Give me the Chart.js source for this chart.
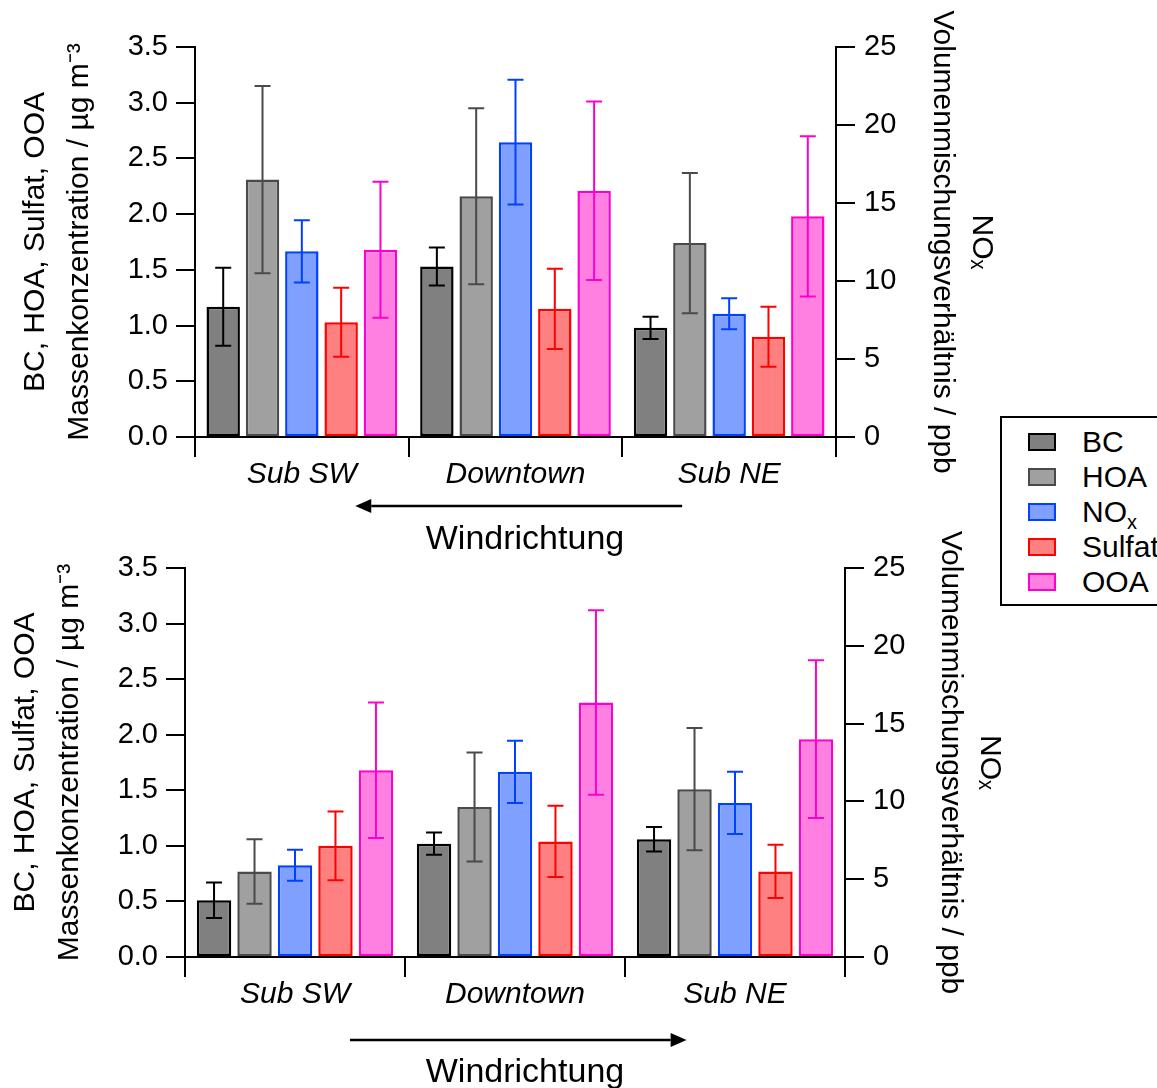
<!DOCTYPE html>
<html>
<head>
<meta charset="utf-8">
<script src="https://cdn.jsdelivr.net/npm/chart.js@4.4.1/dist/chart.umd.min.js"></script>
<style>
body { margin: 0; width: 1157px; height: 1088px; overflow: hidden; background: #fff; position: relative;
       font-family: "Liberation Sans", Arial, Helvetica, sans-serif; color: #000; }
canvas { position: absolute; left: 0; }
#topChart { top: 0; }
#bottomChart { top: 520px; }
.wind { position: absolute; left: 375px; width: 300px; text-align: center; font-size: 34px; line-height: 34px; }
#legend { position: absolute; left: 1000px; top: 416px; width: 200px; height: 186px; border: 2px solid #000; background: #fff; }
.item { position: absolute; left: 0; width: 200px; height: 30px; font-size: 30px; line-height: 30px; }
.swatch { position: absolute; left: 26px; top: 6px; width: 24px; height: 14px; border: 2px solid; }
.item .label { position: absolute; left: 80px; top: 0; white-space: nowrap; }
.item sub { font-size: 20px; line-height: 0; }
</style>
</head>
<body>
<canvas id="topChart" width="1020" height="520"></canvas>
<canvas id="bottomChart" width="1020" height="568"></canvas>
<div class="wind" style="top:520px">Windrichtung</div>
<div class="wind" style="top:1053px">Windrichtung</div>
<div id="legend"></div>

<script>
const categories = ['Sub SW', 'Downtown', 'Sub NE'];
const seriesNames = ['BC', 'HOA', 'NOx', 'Sulfat', 'OOA'];
const fillColors = ['#808080', '#a0a0a0', '#80a0ff', '#ff8080', '#ff80e0'];
const lineColors = ['#000000', '#4a4a4a', '#0040ff', '#ff0000', '#ff00cc'];
const massTicks = [0, 0.5, 1.0, 1.5, 2.0, 2.5, 3.0, 3.5];
const noxTicks = [0, 5, 10, 15, 20, 25];

// upper panel (arrow towards Sub SW)
const topBC = [1.17, 1.53, 0.98];
const topBCErr = [0.35, 0.17, 0.10];
const topHOA = [2.31, 2.16, 1.74];
const topHOAErr = [0.84, 0.79, 0.63];
const topNOx = [11.9, 18.9, 7.9];
const topNOxErr = [2.0, 4.0, 1.0];
const topSulfat = [1.03, 1.15, 0.90];
const topSulfatErr = [0.31, 0.36, 0.27];
const topOOA = [1.68, 2.21, 1.98];
const topOOAErr = [0.61, 0.80, 0.72];

// lower panel (arrow towards Sub NE)
const bottomBC = [0.51, 1.02, 1.06];
const bottomBCErr = [0.16, 0.10, 0.11];
const bottomHOA = [0.77, 1.35, 1.51];
const bottomHOAErr = [0.29, 0.49, 0.55];
const bottomNOx = [5.9, 11.9, 9.9];
const bottomNOxErr = [1.0, 2.0, 2.0];
const bottomSulfat = [1.00, 1.04, 0.77];
const bottomSulfatErr = [0.31, 0.32, 0.24];
const bottomOOA = [1.68, 2.29, 1.96];
const bottomOOAErr = [0.61, 0.83, 0.71];

Chart.defaults.font.family = '"Liberation Sans", Arial, Helvetica, sans-serif';
Chart.defaults.color = '#000';

// draws +/- error whiskers on top of each bar
const errorBars = {
    id: 'errorBars',
    afterDatasetsDraw(chart) {
        const ctx = chart.ctx;
        chart.data.datasets.forEach((ds, i) => {
            const meta = chart.getDatasetMeta(i);
            const scale = chart.scales[ds.yAxisID];
            meta.data.forEach((bar, j) => {
                const hi = scale.getPixelForValue(ds.data[j] + ds.errors[j]);
                const lo = scale.getPixelForValue(ds.data[j] - ds.errors[j]);
                ctx.save();
                ctx.strokeStyle = ds.borderColor;
                ctx.lineWidth = 2;
                ctx.beginPath();
                ctx.moveTo(bar.x, hi); ctx.lineTo(bar.x, lo);
                ctx.moveTo(bar.x - 8, hi); ctx.lineTo(bar.x + 8, hi);
                ctx.moveTo(bar.x - 8, lo); ctx.lineTo(bar.x + 8, lo);
                ctx.stroke();
                ctx.restore();
            });
        });
    }
};

// wind direction arrow under the category axis
const windArrow = {
    id: 'windArrow',
    afterDraw(chart, args, opts) {
        const ctx = chart.ctx;
        const xs = chart.scales.x;
        const x0 = xs.left + xs.width * 0.25;
        const x1 = xs.left + xs.width * 0.76;
        const y = opts.y;
        const tip = opts.dir < 0 ? x0 : x1;
        const back = opts.dir < 0 ? x0 + 16 : x1 - 16;
        ctx.save();
        ctx.strokeStyle = '#000';
        ctx.fillStyle = '#000';
        ctx.lineWidth = 2.5;
        ctx.beginPath();
        ctx.moveTo(opts.dir < 0 ? x1 : x0, y);
        ctx.lineTo(back, y);
        ctx.stroke();
        ctx.beginPath();
        ctx.moveTo(tip, y);
        ctx.lineTo(back, y - 7);
        ctx.lineTo(back, y + 7);
        ctx.closePath();
        ctx.fill();
        ctx.restore();
    }
};

function makeDatasets(values, errors) {
    return seriesNames.map((name, i) => ({
        label: name,
        data: values[i],
        errors: errors[i],
        yAxisID: name === 'NOx' ? 'y2' : 'y',
        backgroundColor: fillColors[i],
        borderColor: lineColors[i],
        borderWidth: 2.5,
        borderSkipped: false,
        categoryPercentage: 0.92,
        barPercentage: 0.85
    }));
}

function axisLines() {
    return {
        grid: { drawOnChartArea: false, drawTicks: true, tickLength: 19, color: '#000', lineWidth: 2 },
        border: { display: true, color: '#000', width: 2 }
    };
}

function makeChart(id, values, errors, geo) {
    const ctx = document.getElementById(id).getContext('2d');
    return new Chart(ctx, {
        type: 'bar',
        data: { labels: categories, datasets: makeDatasets(values, errors) },
        options: {
            responsive: false,
            animation: false,
            devicePixelRatio: 1,
            layout: { padding: { top: geo.padTop, left: 0, right: 0, bottom: 0 } },
            plugins: {
                legend: { display: false },
                tooltip: { enabled: false },
                windArrow: { y: geo.arrowY, dir: geo.arrowDir }
            },
            scales: {
                x: {
                    ...axisLines(),
                    grid: { offset: true, drawOnChartArea: false, drawTicks: true, tickLength: 20, color: '#000', lineWidth: 2 },
                    ticks: { font: { size: 30, style: 'italic' }, padding: 0, maxRotation: 0 },
                    afterFit: s => { s.height = geo.xHeight; }
                },
                y: {
                    ...axisLines(),
                    position: 'left',
                    min: massTicks[0],
                    max: massTicks[massTicks.length - 1],
                    afterBuildTicks: s => { s.ticks = massTicks.map(v => ({ value: v })); },
                    ticks: { font: { size: 29 }, padding: 8, callback: v => v.toFixed(1) },
                    title: {
                        display: true,
                        text: ['BC, HOA, Sulfat, OOA', 'Massenkonzentration / µg m⁻³'],
                        font: { size: 30, lineHeight: 1.45 },
                        padding: { top: geo.leftTitlePad, bottom: 0 }
                    },
                    afterFit: s => { s.width = geo.leftWidth; }
                },
                y2: {
                    ...axisLines(),
                    position: 'right',
                    min: noxTicks[0],
                    max: noxTicks[noxTicks.length - 1],
                    afterBuildTicks: s => { s.ticks = noxTicks.map(v => ({ value: v })); },
                    ticks: { font: { size: 29 }, padding: 9 },
                    title: {
                        display: true,
                        text: ['NOₓ', 'Volumenmischungsverhältnis / ppb'],
                        font: { size: 30, lineHeight: 1.3 },
                        padding: { top: geo.rightTitlePad, bottom: 0 }
                    },
                    afterFit: s => { s.width = geo.rightWidth; }
                }
            }
        },
        plugins: [errorBars, windArrow]
    });
}

makeChart('topChart',
    [topBC, topHOA, topNOx, topSulfat, topOOA],
    [topBCErr, topHOAErr, topNOxErr, topSulfatErr, topOOAErr],
    { padTop: 47, xHeight: 83, leftWidth: 195, rightWidth: 184, leftTitlePad: 14, rightTitlePad: 19, arrowY: 506, arrowDir: -1 });

makeChart('bottomChart',
    [bottomBC, bottomHOA, bottomNOx, bottomSulfat, bottomOOA],
    [bottomBCErr, bottomHOAErr, bottomNOxErr, bottomSulfatErr, bottomOOAErr],
    { padTop: 48, xHeight: 131, leftWidth: 185, rightWidth: 175, leftTitlePad: 4, rightTitlePad: 11, arrowY: 520, arrowDir: 1 });

// shared legend box on the right
const legend = document.getElementById('legend');
seriesNames.forEach((name, i) => {
    const item = document.createElement('div');
    item.className = 'item';
    item.style.top = (9 + i * 35) + 'px';
    const label = name === 'NOx' ? 'NO<sub>x</sub>' : name;
    item.innerHTML = '<div class="swatch" style="background:' + fillColors[i] + ';border-color:' + lineColors[i] +
        '"></div><span class="label">' + label + '</span>';
    legend.appendChild(item);
});
</script>
</body>
</html>
